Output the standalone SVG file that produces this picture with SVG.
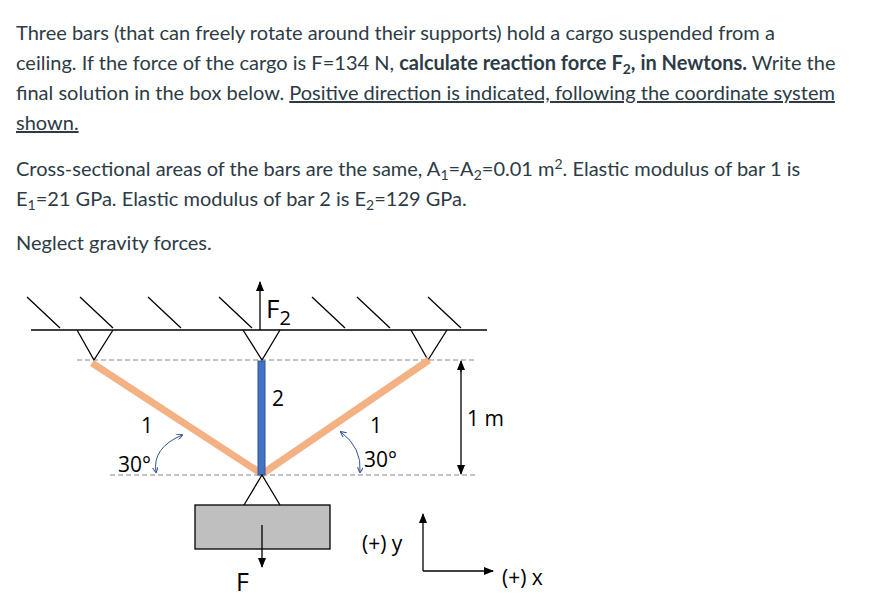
<svg xmlns="http://www.w3.org/2000/svg" width="872" height="608" viewBox="0 0 872 608">
<defs>
<marker id="ah" markerWidth="10" markerHeight="10" refX="9" refY="5" orient="auto" markerUnits="userSpaceOnUse"><path d="M0,1 L10,5 L0,9 z" fill="#000"/></marker>
<marker id="bh" markerWidth="6" markerHeight="6" refX="5" refY="3" orient="auto-start-reverse" markerUnits="userSpaceOnUse"><path d="M0,0 L6,3 L0,6" fill="none" stroke="#2f5597" stroke-width="1"/></marker>
<style>
.t{font-family:Lato,"Liberation Sans",sans-serif;font-size:20px;fill:#2d3b45}
.d{font-family:"Open Sans","Liberation Sans",sans-serif;font-size:21px;fill:#000}
.l{stroke:#000;stroke-width:1.3;fill:none}
.dash{stroke:#888;stroke-width:1;stroke-dasharray:5,3}
</style>
</defs>
<rect width="872" height="608" fill="#fff"/>
<g id="text">
<text class="t" x="16" y="40">Three bars (that can freely rotate around their supports) hold a cargo suspended from a</text>
<text class="t" x="16" y="70">ceiling. If the force of the cargo is F=134 N, <tspan font-weight="bold">calculate reaction force F<tspan style="font-size:14px" dy="4">2</tspan><tspan dy="-4">, in Newtons.</tspan></tspan> Write the</text>
<text class="t" x="16" y="100">final solution in the box below. <tspan text-decoration="underline">Positive direction is indicated, following the coordinate system</tspan></text>
<text class="t" x="16" y="130" text-decoration="underline">shown.</text>
<text class="t" x="16" y="176">Cross-sectional areas of the bars are the same, A<tspan style="font-size:14px" dy="4">1</tspan><tspan dy="-4">=A</tspan><tspan style="font-size:14px" dy="4">2</tspan><tspan dy="-4">=0.01 m</tspan><tspan style="font-size:14px" dy="-7">2</tspan><tspan dy="7">. Elastic modulus of bar 1 is</tspan></text>
<text class="t" x="16" y="206">E<tspan style="font-size:14px" dy="4">1</tspan><tspan dy="-4">=21 GPa.  Elastic modulus of bar 2 is E</tspan><tspan style="font-size:14px" dy="4">2</tspan><tspan dy="-4">=129 GPa.</tspan></text>
<text class="t" x="16" y="250">Neglect gravity forces.</text>
</g>
<g id="ceiling">
<line class="l" x1="31" y1="330" x2="487" y2="330"/>
<path class="l" d="M27,297 L60,328 M80,297 L113,328 M148,297 L181,328 M219,297 L252,328 M312,297 L345,328 M357,297 L390,328 M428,297 L461,328"/>
</g>
<g id="guides">
<line class="dash" x1="77" y1="360" x2="477" y2="360"/>
<line class="dash" x1="110" y1="475" x2="477" y2="475"/>
</g>
<g id="supports">
<path class="l" d="M77,330 L94,360 L113,330"/>
<path class="l" d="M243,330 L262,360 L280,330"/>
<path class="l" d="M411,330 L428,360 L447,330"/>
</g>
<g id="bar1-left"><line x1="92" y1="363" x2="262" y2="474" stroke="#f4b183" stroke-width="7"/></g>
<g id="bar1-right"><line x1="429" y1="360" x2="262" y2="474" stroke="#f4b183" stroke-width="7"/></g>
<g id="bar2"><rect x="258" y="361" width="7" height="114" fill="#4472c4" stroke="#2f5597" stroke-width="1"/></g>
<g id="cargo">
<path class="l" d="M244,505 L262,475 L280,505"/>
<rect x="195" y="505" width="135" height="44" fill="#bfbfbf" stroke="#000" stroke-width="1.3"/>
</g>
<g id="connectors">
<line class="l" x1="262" y1="525" x2="262" y2="567" marker-end="url(#ah)"/>
<line class="l" x1="260" y1="330" x2="260" y2="282" marker-end="url(#ah)"/>
<line class="l" x1="461" y1="372" x2="461" y2="361" marker-end="url(#ah)"/>
<line class="l" x1="461" y1="362" x2="461" y2="474" marker-end="url(#ah)"/>
<line class="l" x1="423" y1="571" x2="423" y2="514" marker-end="url(#ah)"/>
<line class="l" x1="423" y1="571" x2="493" y2="571" marker-end="url(#ah)"/>
<path d="M156,472 Q152,448 182,435" fill="none" stroke="#2f5597" stroke-width="1" marker-end="url(#bh)" marker-start="url(#bh)"/>
<path d="M341,432 Q362,448 360,472" fill="none" stroke="#2f5597" stroke-width="1" marker-end="url(#bh)" marker-start="url(#bh)"/>
</g>
<g id="labels">
<text class="d" x="266" y="318" style="font-size:26px">F<tspan style="font-size:20px" dy="7">2</tspan></text>
<text class="d" x="272" y="406">2</text>
<text class="d" x="141" y="433">1</text>
<text class="d" x="370" y="433">1</text>
<text class="d" x="118" y="472">30°</text>
<text class="d" x="364" y="467">30°</text>
<text class="d" x="467" y="426">1 m</text>
<text class="d" x="236" y="591" style="font-size:25px">F</text>
<text class="d" x="362" y="551">(+) y</text>
<text class="d" x="502" y="585">(+) x</text>
</g>
</svg>
